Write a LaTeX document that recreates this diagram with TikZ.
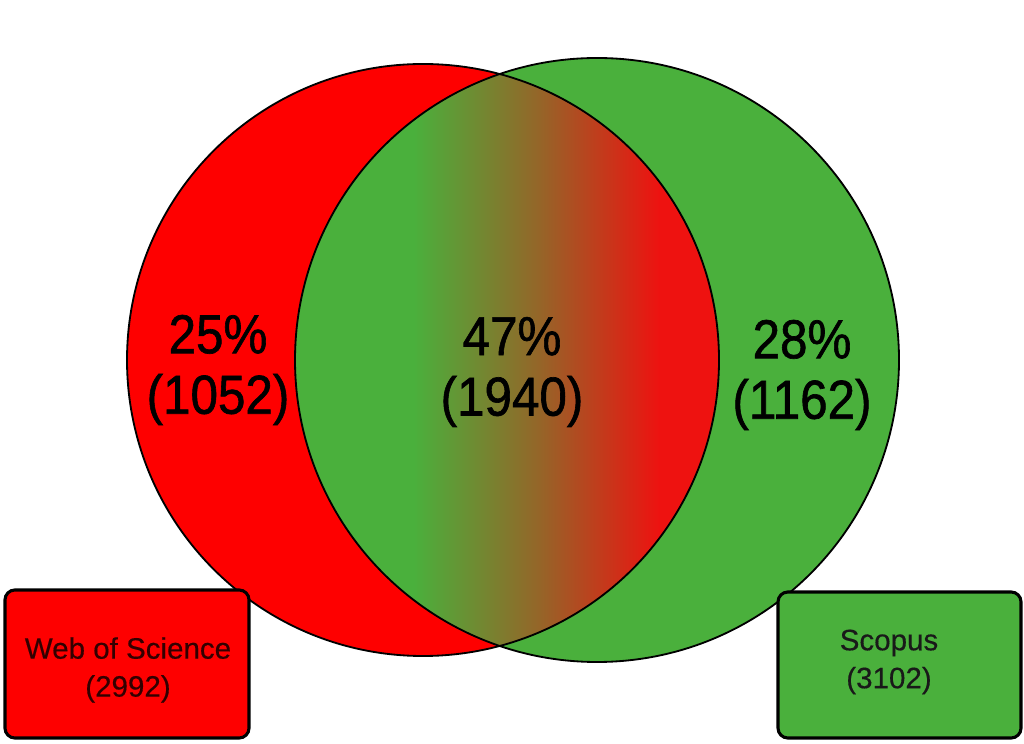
\documentclass[tikz,border=0pt]{standalone}
\usepackage{fontspec}
\setmainfont{Liberation Sans}
\newfontfamily\heavyfont[FakeBold=1.2]{Liberation Sans}
\newfontfamily\midfont[FakeBold=0.4]{Liberation Sans}
\definecolor{vred}{RGB}{254,0,0}
\definecolor{vgreen}{RGB}{74,176,60}
\definecolor{lensred}{RGB}{238,18,16}
\definecolor{lensmid}{RGB}{150,100,40}
\pgfdeclarehorizontalshading{lensshade}{100bp}{color(0bp)=(vgreen); color(39bp)=(vgreen); color(54bp)=(lensmid); color(68bp)=(lensred); color(100bp)=(lensred)}
\newcommand{\nrw}[1]{\scalebox{0.9}[1]{#1}}
\tikzset{
  setline/.style={draw=black, line width=1.3pt},
  bigtxt/.style={align=center, font=\heavyfont\fontsize{39}{43}\selectfont, text=black},
  boxstyle/.style={draw=black, line width=2.2pt, rounded corners=7pt},
  boxtxt/.style={align=center, font=\midfont\fontsize{21}{27}\selectfont},
}
\begin{document}
\begin{tikzpicture}[x=0.025cm, y=0.025cm]
\useasboundingbox (0,0) rectangle (1024,743);
\coordinate (lc) at (423,383);
\coordinate (rc) at (597,383);
% set fills
\fill[vred] (lc) circle (296);
\fill[vgreen] (rc) circle (302);
% lens
\begin{scope}
  \clip (lc) circle (296);
  \clip (rc) circle (302);
  \shade[shading=lensshade] (295,70) rectangle (719,700);
\end{scope}
% outlines
\draw[setline] (lc) circle (296);
\draw[setline] (rc) circle (302);
% set labels
\node[bigtxt] (wt) at (218,373) {\nrw{25\%}\\\nrw{(1052)}};
\node[bigtxt] (mt) at (512,371) {\nrw{47\%}\\\nrw{(1940)}};
\node[bigtxt] (st) at (802,368) {\nrw{28\%}\\\nrw{(1162)}};
% legend boxes
\draw[boxstyle, fill=vred] (5,5) rectangle (249,153);
\draw[boxstyle, fill=vgreen] (778,5) rectangle (1021,151);
\node[boxtxt, text=black!80!red] (wbt) at (128,73) {Web of Science\\(2992)};
\node[boxtxt, text=black!90] (sbt) at (889,81) {Scopus\\(3102)};
\end{tikzpicture}
\end{document}
